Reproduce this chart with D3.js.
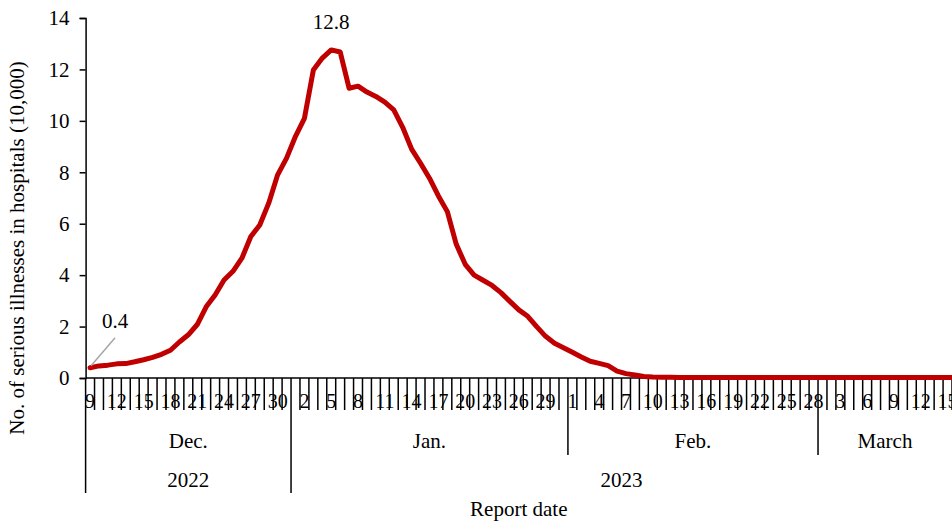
<!DOCTYPE html>
<html>
<head>
<meta charset="utf-8">
<script src="https://cdn.jsdelivr.net/npm/d3@7"></script>
<style>
  html, body { margin: 0; padding: 0; background: #fff; }
  svg { display: block; }
  text { font-family: "Liberation Serif", "Times New Roman", serif; fill: #000; }
</style>
</head>
<body>
<svg id="chart" width="952" height="521"></svg>
<script>
// ---------- data ----------
const startDate = new Date(2022, 11, 9);   // Dec 9, 2022
const endDate = new Date(2023, 2, 17);     // exclusive -> last day Mar 16, 2023
const dates = d3.timeDay.range(startDate, endDate);

const values = [
  0.40, 0.47, 0.50, 0.55, 0.56, 0.63, 0.71, 0.80, 0.92, 1.08,
  1.40, 1.68, 2.08, 2.77, 3.23, 3.81, 4.15, 4.66, 5.50, 5.95,
  6.80, 7.90, 8.55, 9.40, 10.10, 11.98, 12.44, 12.76, 12.68, 11.27,
  11.35, 11.12, 10.95, 10.73, 10.43, 9.75, 8.90, 8.35, 7.77, 7.08,
  6.47, 5.20, 4.42, 4.00, 3.80, 3.60, 3.32, 2.98, 2.65, 2.40,
  2.00, 1.62, 1.35, 1.18, 1.00, 0.82, 0.65, 0.57, 0.48, 0.27,
  0.17, 0.12, 0.06, 0.04, 0.03, 0.03, 0.02, 0.02, 0.02, 0.02,
  0.02, 0.02, 0.02, 0.02, 0.02, 0.02, 0.02, 0.02, 0.02, 0.02,
  0.02, 0.02, 0.02, 0.02, 0.02, 0.02, 0.02, 0.02, 0.02, 0.02,
  0.02, 0.02, 0.02, 0.02, 0.02, 0.02, 0.02, 0.02
];

const monthLabels = ["Dec.", "Jan.", "Feb.", "March"];
const yearLabels = ["2022", "2023"];
const yTicks = [0, 2, 4, 6, 8, 10, 12, 14];
const dayLabelEvery = 3;
const annotations = [
  { index: 0, label: "0.4" },
  { index: 27, label: "12.8" }
];
const yTitle = "No. of serious illnesses in hospitals (10,000)";
const xTitle = "Report date";

// ---------- layout ----------
const W = 952, H = 521;
const mLeft = 85.6, mTop = 18, mBottom = 378;
const step = 8.932;
const svg = d3.select("#chart");

const x = d3.scaleBand()
  .domain(d3.range(dates.length))
  .range([mLeft, mLeft + step * dates.length])
  .padding(0);
const y = d3.scaleLinear().domain([0, 14]).range([mBottom, mTop]);

const red = "#C00000";
const fs = 21;

// ---------- y axis ----------
const yAxis = d3.axisLeft(y).tickValues(yTicks).tickSize(6).tickPadding(10);
const yg = svg.append("g").attr("transform", `translate(${mLeft},0)`).call(yAxis);
yg.select(".domain").attr("stroke", "#000").attr("stroke-width", 1.5);
yg.selectAll(".tick line").attr("stroke", "#000").attr("stroke-width", 1.5);
yg.selectAll(".tick text")
  .style("font-family", '"Liberation Serif", "Times New Roman", serif')
  .style("font-size", fs + "px").attr("fill", "#000");

svg.append("text")
  .attr("transform", `translate(24,248) rotate(-90)`)
  .attr("text-anchor", "middle")
  .style("font-size", fs + "px")
  .text(yTitle);

// ---------- x axis (multi-level category) ----------
const axisG = svg.append("g");
axisG.append("line")
  .attr("x1", mLeft).attr("x2", W + 20)
  .attr("y1", mBottom).attr("y2", mBottom)
  .attr("stroke", "#000").attr("stroke-width", 1.5);

const boundaries = d3.range(dates.length + 1);
boundaries.forEach(i => {
  const bx = i < dates.length ? x(i) : x(dates.length - 1) + step;
  let y2 = 410;
  if (i === 0) y2 = 493;
  else if (i < dates.length) {
    const d = dates[i], p = dates[i - 1];
    if (d.getFullYear() !== p.getFullYear()) y2 = 493;
    else if (d.getMonth() !== p.getMonth()) y2 = 455;
  }
  axisG.append("line")
    .attr("x1", bx).attr("x2", bx)
    .attr("y1", mBottom).attr("y2", y2)
    .attr("stroke", "#000").attr("stroke-width", 1.5);
});

dates.forEach((d, i) => {
  if (i % dayLabelEvery !== 0) return;
  axisG.append("text")
    .attr("x", x(i) + x.bandwidth() / 2)
    .attr("y", 408)
    .attr("text-anchor", "middle")
    .style("font-size", "20px")
    .text(d.getDate());
});

const months = d3.groups(d3.range(dates.length), i => dates[i].getFullYear() * 12 + dates[i].getMonth());
months.forEach(([k, idx], mi) => {
  const x0 = x(idx[0]);
  const x1 = Math.min(x(idx[idx.length - 1]) + step, W);
  axisG.append("text")
    .attr("x", (x0 + x1) / 2)
    .attr("y", 448)
    .attr("text-anchor", "middle")
    .style("font-size", fs + "px")
    .text(monthLabels[mi]);
});

const years = d3.groups(d3.range(dates.length), i => dates[i].getFullYear());
years.forEach(([k, idx], yi) => {
  const x0 = x(idx[0]);
  const x1 = Math.min(x(idx[idx.length - 1]) + step, W);
  axisG.append("text")
    .attr("x", (x0 + x1) / 2)
    .attr("y", 487)
    .attr("text-anchor", "middle")
    .style("font-size", fs + "px")
    .text(yearLabels[yi]);
});

svg.append("text")
  .attr("x", (mLeft + W) / 2)
  .attr("y", 516)
  .attr("text-anchor", "middle")
  .style("font-size", fs + "px")
  .text(xTitle);

// ---------- line ----------
const line = d3.line()
  .x((d, i) => x(i) + x.bandwidth() / 2)
  .y(d => y(d));

svg.append("path")
  .datum(values)
  .attr("d", line)
  .attr("fill", "none")
  .attr("stroke", red)
  .attr("stroke-width", 5)
  .attr("stroke-linejoin", "round")
  .attr("stroke-linecap", "round");

// ---------- annotations ----------
const a0 = annotations[0];
const ax0 = x(a0.index) + x.bandwidth() / 2, ay0 = y(values[a0.index]);
svg.append("line")
  .attr("x1", ax0 + 1).attr("y1", ay0 - 2)
  .attr("x2", ax0 + 25).attr("y2", ay0 - 30)
  .attr("stroke", "#a6a6a6").attr("stroke-width", 1.5);
svg.append("text")
  .attr("x", ax0 + 25).attr("y", 328)
  .attr("text-anchor", "middle")
  .style("font-size", fs + "px")
  .text(a0.label);

const a1 = annotations[1];
svg.append("text")
  .attr("x", x(a1.index) + x.bandwidth() / 2)
  .attr("y", 29)
  .attr("text-anchor", "middle")
  .style("font-size", fs + "px")
  .text(a1.label);
</script>
</body>
</html>
